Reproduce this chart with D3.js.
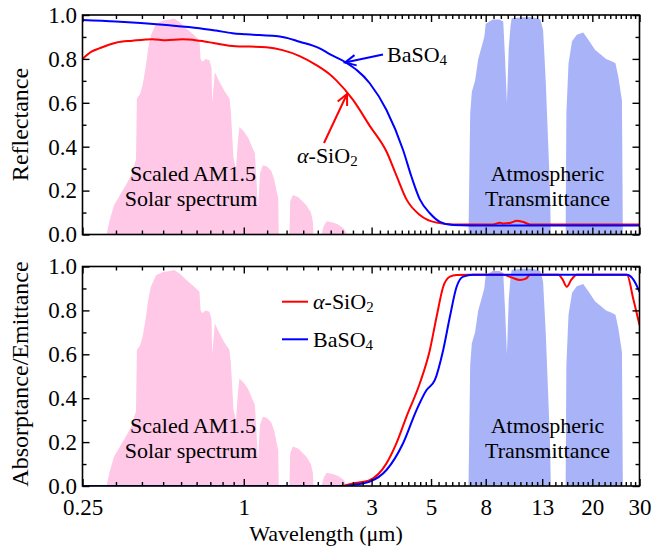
<!DOCTYPE html>
<html><head><meta charset="utf-8">
<script src="https://cdn.jsdelivr.net/npm/d3@7"></script>
<style>body{margin:0;background:#fff}svg{display:block}text{font-family:"Liberation Serif","Times New Roman",serif;fill:#000}</style>
</head><body><svg id="c" width="652" height="548"></svg>
<script>
// ---------- data ----------
const xMajorTicks = [0.25, 1, 3, 5, 8, 13, 20, 30];
const xTickLabels = ["0.25", "1", "3", "5", "8", "13", "20", "30"];
const yMajorTicks = [0, 0.2, 0.4, 0.6, 0.8, 1.0];
const yTickLabels = ["0.0", "0.2", "0.4", "0.6", "0.8", "1.0"];
const yMinorTicks = [0.1, 0.3, 0.5, 0.7, 0.9];

// scaled AM1.5 solar spectrum
const solarWl  = [0.300,0.3075,0.315,0.328,0.345,0.363,0.380,0.390,0.396,0.399,0.410,0.419,0.430,0.440,0.450,0.470,0.500,0.530,0.550,0.580,0.609,0.650,0.683,0.690,0.700,0.720,0.744,0.758,0.762,0.780,0.811,0.850,0.884,0.895,0.915,0.935,0.950,0.963,1.000,1.040,1.080,1.100,1.115,1.130,1.150,1.178,1.220,1.266,1.300,1.330,1.345,1.350,1.480,1.490,1.525,1.600,1.710,1.780,1.810,1.820,1.950,1.990,2.040,2.150,2.250,2.350,2.410,2.420];
const solarVal = [0.000,0.000,0.060,0.134,0.180,0.225,0.270,0.316,0.340,0.620,0.640,0.680,0.760,0.850,0.908,0.960,0.975,0.980,0.984,0.965,0.940,0.910,0.885,0.800,0.787,0.800,0.794,0.760,0.600,0.740,0.696,0.650,0.620,0.560,0.350,0.300,0.420,0.490,0.470,0.440,0.392,0.370,0.250,0.120,0.280,0.316,0.310,0.290,0.250,0.190,0.164,0.000,0.000,0.150,0.180,0.170,0.134,0.100,0.060,0.000,0.000,0.040,0.060,0.055,0.045,0.030,0.010,0.000];

// atmospheric transmittance
const atmWl  = [6.90,7.00,7.10,7.30,7.50,7.70,7.90,8.00,8.50,9.00,9.30,9.45,9.60,9.75,9.90,10.0,11.0,12.0,12.8,13.1,13.4,13.7,13.9,14.0,15.9,16.0,16.3,16.8,17.5,18.5,19.5,20.5,21.5,22.5,23.5,24.4,25.0,25.8,26.0];
const atmVal = [0.00,0.55,0.65,0.70,0.80,0.85,0.90,0.96,0.98,0.98,0.97,0.80,0.60,0.85,0.95,0.985,0.99,0.99,0.98,0.93,0.70,0.40,0.20,0.00,0.00,0.55,0.78,0.88,0.91,0.92,0.88,0.84,0.82,0.80,0.79,0.78,0.72,0.61,0.00];

// reflectance
const sio2RWl = [0.25,0.27,0.289,0.333,0.384,0.456,0.513,0.590,0.683,0.907,1.213,1.395,1.616,1.866,2.092,2.215,2.557,2.952,3.409,3.715,4.049,4.541,5.244,6.033,7.0,8.5,9.04,9.3,10.0,10.44,11.0,11.71,13.0,18.0,24.0,30.0];
const sio2R   = [0.800,0.833,0.848,0.874,0.883,0.890,0.885,0.889,0.883,0.859,0.853,0.840,0.813,0.772,0.730,0.702,0.613,0.495,0.378,0.268,0.160,0.089,0.054,0.046,0.045,0.046,0.053,0.050,0.055,0.063,0.058,0.046,0.045,0.045,0.045,0.045];
const baso4RWl = [0.25,0.333,0.513,0.683,0.788,0.907,1.02,1.395,1.616,1.919,2.092,2.380,2.952,3.409,3.932,4.227,4.541,4.950,5.395,6.033,7.0,10.0,15.0,22.0,30.0];
const baso4R   = [0.977,0.970,0.954,0.940,0.929,0.917,0.912,0.900,0.878,0.848,0.822,0.787,0.689,0.567,0.385,0.263,0.160,0.097,0.058,0.043,0.041,0.041,0.041,0.041,0.041];

// absorptance / emittance
const sio2AWl = [0.25,0.6,1.2,2.30,2.557,2.952,3.409,3.715,4.049,4.541,4.950,5.244,5.551,5.879,6.229,7.0,8.0,9.28,10.0,10.74,11.3,11.71,13.0,14.94,15.5,16.06,16.7,17.51,20.0,23.5,26.92,28.5,30.0];
const sio2A   = [0.000,0.000,0.000,0.000,0.012,0.027,0.103,0.195,0.316,0.468,0.620,0.771,0.908,0.954,0.961,0.962,0.962,0.962,0.950,0.939,0.945,0.962,0.962,0.962,0.940,0.908,0.940,0.962,0.962,0.962,0.962,0.847,0.733];
const baso4AWl = [0.25,0.6,1.2,2.40,2.557,2.952,3.409,3.932,4.413,4.811,5.168,5.551,5.879,6.229,6.592,7.184,8.5,10.5,13.0,16.0,19.0,22.5,26.92,28.5,30.0];
const baso4A   = [0.000,0.000,0.000,0.000,0.005,0.020,0.073,0.195,0.346,0.437,0.483,0.620,0.771,0.908,0.954,0.962,0.962,0.962,0.962,0.962,0.962,0.962,0.962,0.939,0.885];

// ---------- layout ----------
const svg = d3.select("#c");
const X0 = 82.5, X1 = 639.5;
const panels = [{top: 15, bot: 234.5}, {top: 266.5, bot: 486}];
const x = d3.scaleLog().domain([0.25, 30]).range([X0, X1]);
const RED = "#ff0000", BLUE = "#0000ff", PINK = "#fec8e6", LBLUE = "#a9b4f8";
const FS = 23;

// minor x ticks: 8 evenly spaced between consecutive major ticks
const xMinorTicks = [];
for (let i = 0; i < xMajorTicks.length - 1; i++) {
  const a = xMajorTicks[i], b = xMajorTicks[i + 1];
  for (let k = 1; k <= 8; k++) xMinorTicks.push(a + (b - a) * k / 9);
}

const zip = (w, v) => w.map((d, i) => [d, v[i]]);

panels.forEach((p, pi) => {
  const y = d3.scaleLinear().domain([0, 1]).range([p.bot, p.top]);
  const g = svg.append("g");
  const clipId = "clip" + pi;
  svg.append("clipPath").attr("id", clipId).append("rect")
    .attr("x", X0).attr("y", p.top).attr("width", X1 - X0).attr("height", p.bot - p.top);
  const plot = g.append("g").attr("clip-path", `url(#${clipId})`);

  const area = d3.area().x(d => x(d[0])).y0(y(0)).y1(d => y(d[1]));
  plot.append("path").datum(zip(solarWl, solarVal)).attr("d", area).attr("fill", PINK);
  plot.append("path").datum(zip(atmWl, atmVal)).attr("d", area).attr("fill", LBLUE);

  const line = d3.line().x(d => x(d[0])).y(d => y(d[1])).curve(d3.curveMonotoneX);
  const sets = pi === 0 ? [[sio2RWl, sio2R, RED], [baso4RWl, baso4R, BLUE]]
                        : [[sio2AWl, sio2A, RED], [baso4AWl, baso4A, BLUE]];
  sets.forEach(([w, v, c]) => plot.append("path").datum(zip(w, v)).attr("d", line)
    .attr("fill", "none").attr("stroke", c).attr("stroke-width", 2));

  const axes = g.append("g").attr("class", "axes");
  const mk = (gen, tx, ty) => {
    const a = axes.append("g").attr("transform", `translate(${tx},${ty})`).call(gen);
    a.select(".domain").remove();
    a.selectAll("line").attr("stroke", "#000").attr("stroke-width", 1.4);
    a.selectAll("text").attr("font-size", FS).attr("font-family", "Liberation Serif").attr("fill", "#000");
    return a;
  };
  mk(d3.axisBottom(x).tickValues(xMajorTicks).tickSize(-7).tickPadding(12.5)
      .tickFormat((d, i) => pi === 1 ? xTickLabels[i] : ""), 0, p.bot);
  mk(d3.axisBottom(x).tickValues(xMinorTicks).tickSize(-4).tickFormat(""), 0, p.bot);
  mk(d3.axisTop(x).tickValues(xMajorTicks).tickSize(-7).tickFormat(""), 0, p.top);
  mk(d3.axisTop(x).tickValues(xMinorTicks).tickSize(-4).tickFormat(""), 0, p.top);
  mk(d3.axisLeft(y).tickValues(yMajorTicks).tickSize(-7).tickPadding(5.5)
      .tickFormat((d, i) => yTickLabels[i]), X0, 0);
  mk(d3.axisLeft(y).tickValues(yMinorTicks).tickSize(-4).tickFormat(""), X0, 0);
  mk(d3.axisRight(y).tickValues(yMajorTicks).tickSize(-7).tickFormat(""), X1, 0);
  mk(d3.axisRight(y).tickValues(yMinorTicks).tickSize(-4).tickFormat(""), X1, 0);
  g.append("rect").attr("x", X0).attr("y", p.top).attr("width", X1 - X0).attr("height", p.bot - p.top)
    .attr("fill", "none").attr("stroke", "#000").attr("stroke-width", 1.6);

  const txt = (s, tx, ty) => g.append("text").attr("x", tx).attr("y", ty)
    .attr("text-anchor", "middle").attr("font-size", 22).text(s);
  const dy = p.top - 15;
  txt("Scaled AM1.5", 193, 181 + dy);
  txt("Solar spectrum", 191, 206 + dy);
  txt("Atmospheric", 547.5, 181 + dy);
  txt("Transmittance", 547.5, 206 + dy);
});

svg.append("text").attr("transform", "translate(28,124.5) rotate(-90)")
  .attr("text-anchor", "middle").attr("font-size", 24).text("Reflectance");
svg.append("text").attr("transform", "translate(28,374) rotate(-90)")
  .attr("text-anchor", "middle").attr("font-size", 24).text("Absorptance/Emittance");
svg.append("text").attr("x", 326).attr("y", 541).attr("text-anchor", "middle")
  .attr("font-size", 22).text("Wavelength (\u03bcm)");

function chem(g, xx, yy, size, parts) {
  const t = g.append("text").attr("x", xx).attr("y", yy).attr("font-size", size);
  parts.forEach(([s, kind]) => {
    const ts = t.append("tspan").text(s);
    if (kind === "i") ts.attr("font-style", "italic");
    if (kind === "sub") ts.attr("font-size", size * 0.68).attr("dy", 3);
  });
  return t;
}
const SIO2 = [["\u03b1", "i"], ["-SiO", ""], ["2", "sub"]];
const BASO4 = [["BaSO", ""], ["4", "sub"]];
chem(svg, 297, 163, 22, SIO2);
chem(svg, 387, 62, 22, BASO4);
chem(svg, 313, 309, 22, SIO2);
chem(svg, 313, 347, 22, BASO4);

svg.append("line").attr("x1", 282).attr("x2", 308).attr("y1", 301.7).attr("y2", 301.7).attr("stroke", RED).attr("stroke-width", 2);
svg.append("line").attr("x1", 282).attr("x2", 308).attr("y1", 339.3).attr("y2", 339.3).attr("stroke", BLUE).attr("stroke-width", 2);

function arrow(x1, y1, x2, y2, c) {
  svg.append("line").attr("x1", x1).attr("y1", y1).attr("x2", x2).attr("y2", y2)
    .attr("stroke", c).attr("stroke-width", 2);
  const ang = Math.atan2(y2 - y1, x2 - x1), L = 12, sp = 0.45;
  const pts = [[x2 - L * Math.cos(ang - sp), y2 - L * Math.sin(ang - sp)], [x2, y2],
               [x2 - L * Math.cos(ang + sp), y2 - L * Math.sin(ang + sp)]];
  svg.append("path").attr("d", d3.line()(pts)).attr("fill", "none").attr("stroke", c).attr("stroke-width", 2);
}
arrow(383, 54.5, 345, 62.5, BLUE);
arrow(324, 143, 347, 94, RED);
</script></body></html>
